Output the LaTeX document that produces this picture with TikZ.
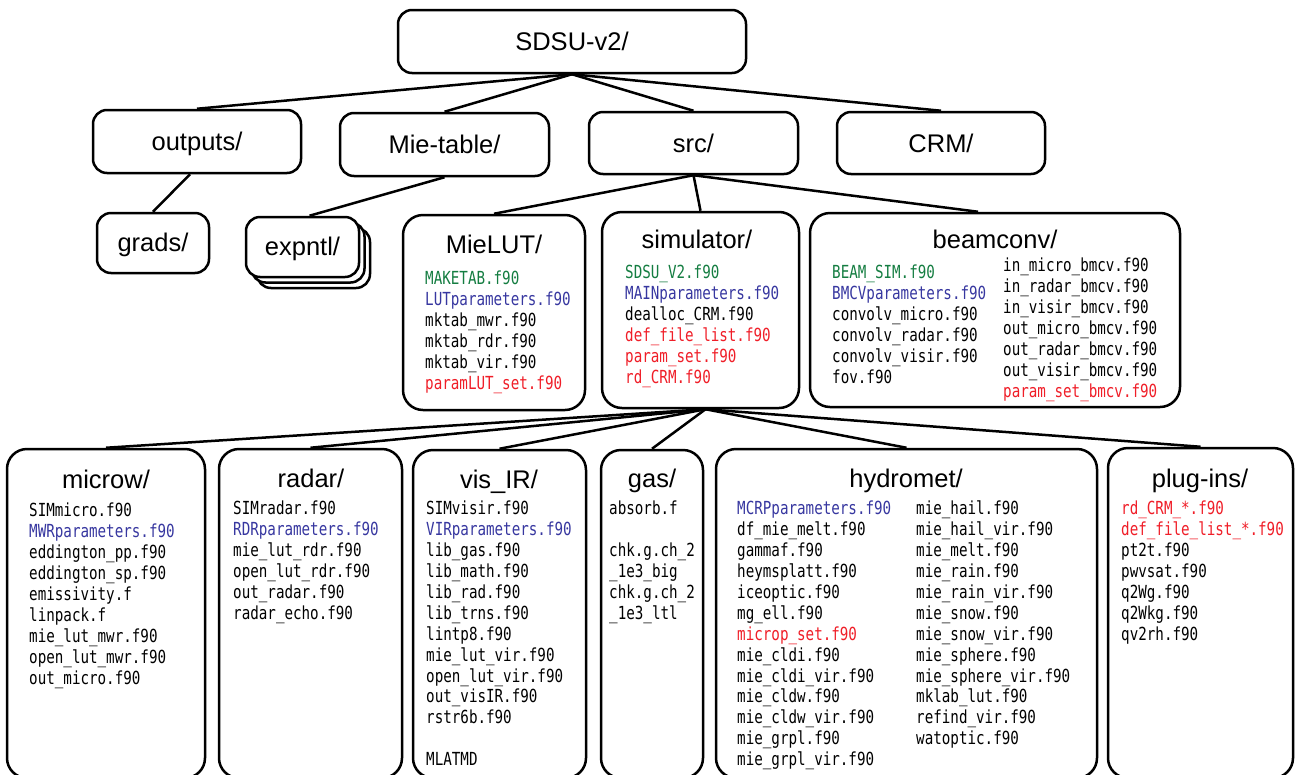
\documentclass[tikz,border=0pt]{standalone}
\usepackage{fontspec}
\setmainfont{Liberation Sans}
\newfontfamily\ffont[FakeStretch=0.79]{DejaVu Sans Mono}
\definecolor{fgreen}{RGB}{20,125,65}
\definecolor{fblue}{RGB}{55,55,160}
\definecolor{fred}{RGB}{240,30,40}
\newcommand\cgreen[1]{\textcolor{fgreen}{#1}}
\newcommand\cblue[1]{\textcolor{fblue}{#1}}
\newcommand\cred[1]{\textcolor{fred}{#1}}
\newcommand\fstrut{\rule{0pt}{14pt}}
\begin{document}
\begin{tikzpicture}[x=1pt,y=-1pt,
  dbox/.style={draw, line width=2.5pt, rounded corners=14pt, fill=white, inner sep=0pt},
  bbox/.style={dbox, rounded corners=20pt},
  head/.style={font=\fontsize{25.5}{30}\selectfont, anchor=base, inner sep=0pt},
  flist/.style={font=\ffont\fontsize{18}{20.9}\selectfont, align=left, anchor=north west, inner sep=0pt},
  conn/.style={line width=2.5pt}]
\useasboundingbox (0,0) rectangle (1295,774);
\clip (0,0) rectangle (1295,774);

% ---- boxes
\node[dbox, minimum width=348pt, minimum height=63pt] (root) at (572,41.5) {};
\node[dbox, minimum width=208pt, minimum height=63pt] (outputs) at (197,141.5) {};
\node[dbox, minimum width=209pt, minimum height=63pt] (mietable) at (444.5,144.5) {};
\node[dbox, minimum width=209pt, minimum height=62pt] (src) at (693.5,143) {};
\node[dbox, minimum width=208pt, minimum height=62pt] (crm) at (941,143) {};
\node[dbox, minimum width=112pt, minimum height=60pt] (grads) at (153,243) {};
\node[dbox, minimum width=113pt, minimum height=60pt] (expntl3) at (313.5,258) {};
\node[dbox, minimum width=113pt, minimum height=60pt] (expntl2) at (308,252.5) {};
\node[dbox, minimum width=113pt, minimum height=60pt] (expntl) at (302.5,247) {};
\node[bbox, minimum width=182pt, minimum height=195pt] (mielut) at (494,312.5) {};
\node[bbox, minimum width=197pt, minimum height=196pt] (simulator) at (700.5,310) {};
\node[bbox, minimum width=370pt, minimum height=194pt] (beamconv) at (995,310) {};
\node[bbox, minimum width=198pt, minimum height=329pt] (microw) at (106,613.5) {};
\node[bbox, minimum width=183pt, minimum height=329pt] (radar) at (310.5,613.5) {};
\node[bbox, minimum width=173pt, minimum height=328pt] (visir) at (499.5,614) {};
\node[bbox, minimum width=102pt, minimum height=328pt] (gas) at (652,614) {};
\node[bbox, minimum width=381pt, minimum height=329pt] (hydromet) at (906.5,613.5) {};
\node[bbox, minimum width=185pt, minimum height=330pt] (plugins) at (1200.5,613) {};

% ---- connectors
\foreach \c in {outputs,mietable,src,crm} \draw[conn] (root.south) -- (\c.north);
\draw[conn] ([xshift=-7pt]outputs.south) -- (grads.north);
\draw[conn] (mietable.south) -- ([xshift=7pt]expntl.north);
\draw[conn] (src.south) -- (mielut.north);
\draw[conn] (src.south) -- (simulator.north);
\draw[conn] (src.south) -- ([xshift=-17pt]beamconv.north);
\foreach \c in {microw,radar,visir,gas,hydromet,plugins} \draw[conn] ([xshift=5pt]simulator.south) -- (\c.north);

% ---- headings
\node[head] (t-root) at (572,50) {SDSU-v2/};
\node[head] (t-outputs) at (197,150) {outputs/};
\node[head] (t-mietable) at (444.5,153) {Mie-table/};
\node[head] (t-src) at (693.5,152) {src/};
\node[head] (t-crm) at (941,152) {CRM/};
\node[head] (t-grads) at (153,251) {grads/};
\node[head] (t-expntl) at (302.5,255) {expntl/};
\node[head] (t-mielut) at (494,253) {MieLUT/};
\node[head] (t-simulator) at (697,248) {simulator/};
\node[head] (t-beamconv) at (995,248) {beamconv/};
\node[head] (t-microw) at (106,488) {microw/};
\node[head] (t-radar) at (311,487) {radar/};
\node[head] (t-visir) at (499,488) {vis\_IR/};
\node[head] (t-gas) at (652,487) {gas/};
\node[head] (t-hydromet) at (906,487) {hydromet/};
\node[head] (t-plugins) at (1200,487) {plug-ins/};

% ---- file lists (anchor at top of a 14pt strut above the first baseline)
\node[flist] (f-mielut) at (425,270.6) {\fstrut\cgreen{MAKETAB.f90}\\\cblue{LUTparameters.f90}\\mktab\_mwr.f90\\mktab\_rdr.f90\\mktab\_vir.f90\\\cred{paramLUT\_set.f90}};
\node[flist] (f-simulator) at (625,264.6) {\fstrut\cgreen{SDSU\_V2.f90}\\\cblue{MAINparameters.f90}\\dealloc\_CRM.f90\\\cred{def\_file\_list.f90}\\\cred{param\_set.f90}\\\cred{rd\_CRM.f90}};
\node[flist] (f-beamconv1) at (832,264.6) {\fstrut\cgreen{BEAM\_SIM.f90}\\\cblue{BMCVparameters.f90}\\convolv\_micro.f90\\convolv\_radar.f90\\convolv\_visir.f90\\fov.f90};
\node[flist] (f-beamconv2) at (1003,257.6) {\fstrut in\_micro\_bmcv.f90\\in\_radar\_bmcv.f90\\in\_visir\_bmcv.f90\\out\_micro\_bmcv.f90\\out\_radar\_bmcv.f90\\out\_visir\_bmcv.f90\\\cred{param\_set\_bmcv.f90}};
\node[flist] (f-microw) at (29,502.6) {\fstrut SIMmicro.f90\\\cblue{MWRparameters.f90}\\eddington\_pp.f90\\eddington\_sp.f90\\emissivity.f\\linpack.f\\mie\_lut\_mwr.f90\\open\_lut\_mwr.f90\\out\_micro.f90};
\node[flist] (f-radar) at (233,500.6) {\fstrut SIMradar.f90\\\cblue{RDRparameters.f90}\\mie\_lut\_rdr.f90\\open\_lut\_rdr.f90\\out\_radar.f90\\radar\_echo.f90};
\node[flist] (f-visir) at (426,500.6) {\fstrut SIMvisir.f90\\\cblue{VIRparameters.f90}\\lib\_gas.f90\\lib\_math.f90\\lib\_rad.f90\\lib\_trns.f90\\lintp8.f90\\mie\_lut\_vir.f90\\open\_lut\_vir.f90\\out\_visIR.f90\\rstr6b.f90\\\mbox{}\\MLATMD};
\node[flist] (f-gas) at (609,500.6) {\fstrut absorb.f\\\mbox{}\\chk.g.ch\_2\\\_1e3\_big\\chk.g.ch\_2\\\_1e3\_ltl};
\node[flist] (f-hydromet1) at (737,500.6) {\fstrut\cblue{MCRPparameters.f90}\\df\_mie\_melt.f90\\gammaf.f90\\heymsplatt.f90\\iceoptic.f90\\mg\_ell.f90\\\cred{microp\_set.f90}\\mie\_cldi.f90\\mie\_cldi\_vir.f90\\mie\_cldw.f90\\mie\_cldw\_vir.f90\\mie\_grpl.f90\\mie\_grpl\_vir.f90};
\node[flist] (f-hydromet2) at (916,500.6) {\fstrut mie\_hail.f90\\mie\_hail\_vir.f90\\mie\_melt.f90\\mie\_rain.f90\\mie\_rain\_vir.f90\\mie\_snow.f90\\mie\_snow\_vir.f90\\mie\_sphere.f90\\mie\_sphere\_vir.f90\\mklab\_lut.f90\\refind\_vir.f90\\watoptic.f90};
\node[flist] (f-plugins) at (1121,500.6) {\fstrut\cred{rd\_CRM\_*.f90}\\\cred{def\_file\_list\_*.f90}\\pt2t.f90\\pwvsat.f90\\q2Wg.f90\\q2Wkg.f90\\qv2rh.f90};
\end{tikzpicture}
\end{document}
